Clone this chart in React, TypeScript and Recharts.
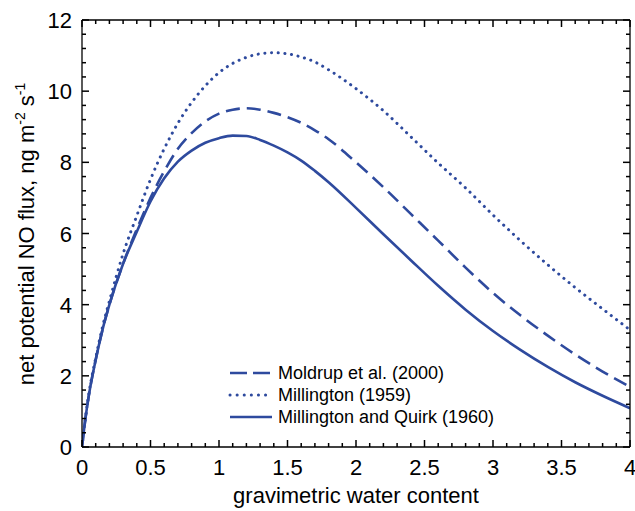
import React from 'react';
import { LineChart, Line, XAxis, YAxis, Legend } from 'recharts';

// gravimetric water content (x) and net potential NO flux for each model
const waterContent = [0, 0.025, 0.05, 0.1, 0.15, 0.2, 0.3, 0.4, 0.5, 0.6, 0.7, 0.8, 0.9, 1.0, 1.1, 1.2, 1.3, 1.4, 1.5, 1.6, 1.7, 1.8, 2.0, 2.2, 2.4, 2.6, 2.8, 3.0, 3.2, 3.4, 3.6, 3.8, 4.0];
const moldrup = [0, 0.8, 1.45, 2.45, 3.3, 4.0, 5.15, 6.12, 7.0, 7.75, 8.38, 8.82, 9.15, 9.37, 9.48, 9.52, 9.48, 9.39, 9.27, 9.11, 8.9, 8.65, 8.0, 7.3, 6.55, 5.8, 5.04, 4.33, 3.7, 3.13, 2.6, 2.12, 1.69];
const millington = [0, 0.82, 1.5, 2.5, 3.38, 4.1, 5.43, 6.5, 7.52, 8.38, 9.1, 9.68, 10.15, 10.52, 10.78, 10.95, 11.05, 11.08, 11.05, 10.96, 10.82, 10.6, 10.07, 9.45, 8.72, 7.98, 7.28, 6.52, 5.8, 5.12, 4.48, 3.88, 3.29];
const millingtonQuirk = [0, 0.8, 1.45, 2.45, 3.3, 4.0, 5.15, 6.05, 6.9, 7.55, 8.02, 8.33, 8.55, 8.68, 8.75, 8.74, 8.63, 8.47, 8.28, 8.05, 7.76, 7.44, 6.72, 5.98, 5.25, 4.53, 3.86, 3.26, 2.73, 2.25, 1.82, 1.44, 1.09];

const xMajorTicks = [0, 0.5, 1, 1.5, 2, 2.5, 3, 3.5, 4];
const yMajorTicks = [0, 2, 4, 6, 8, 10, 12];
const xMinorStep = 0.1;
const yMinorStep = 0.4;

const BLUE = '#2e4a9e';
const FONT = '"Liberation Sans", Arial, Helvetica, sans-serif';

// the 1959 curve is bound to the top / right axes so those get drawn too
const series = [
  { key: 'moldrup', name: 'Moldrup et al. (2000)', dash: '14 7', legendDash: '17 6', cap: 'butt' as const, width: 2.6, xId: 'bottom', yId: 'left' },
  { key: 'millington', name: 'Millington (1959)', dash: '0.1 6.6', legendDash: '0.1 7', cap: 'round' as const, width: 3, xId: 'top', yId: 'right' },
  { key: 'mq', name: 'Millington and Quirk (1960)', dash: undefined, legendDash: undefined, cap: 'butt' as const, width: 2.6, xId: 'bottom', yId: 'left' },
];

const data = waterContent.map((x, i) => ({
  x,
  moldrup: moldrup[i],
  millington: millington[i],
  mq: millingtonQuirk[i],
}));

const steps = (max: number, step: number) =>
  Array.from({ length: Math.round(max / step) + 1 }, (_, i) => Math.round(i * step * 100) / 100);

const xTicks = steps(4, xMinorStep);
const yTicks = steps(12, yMinorStep);

const isIn = (v: number, list: number[]) => list.some((m) => Math.abs(m - v) < 1e-6);

const tickStroke = { stroke: '#000', strokeWidth: 1.5 };
const MAJOR = 7;
const MINOR = 4;

const BottomTick = (props: any) => {
  const { x, y, payload } = props;
  const major = isIn(payload.value, xMajorTicks);
  return (
    <g>
      <line x1={x} x2={x} y1={y} y2={y - (major ? MAJOR : MINOR)} {...tickStroke} />
      {major && (
        <text x={x} y={y + 28} textAnchor="middle" fontSize={22} fontFamily={FONT} fill="#000">
          {String(payload.value)}
        </text>
      )}
    </g>
  );
};

const TopTick = (props: any) => {
  const { x, y, payload } = props;
  const major = isIn(payload.value, xMajorTicks);
  return <line x1={x} x2={x} y1={y} y2={y + (major ? MAJOR : MINOR)} {...tickStroke} />;
};

const LeftTick = (props: any) => {
  const { x, y, payload } = props;
  const major = isIn(payload.value, yMajorTicks);
  return (
    <g>
      <line x1={x} x2={x + (major ? MAJOR : MINOR)} y1={y} y2={y} {...tickStroke} />
      {major && (
        <text x={x - 10} y={y + 8} textAnchor="end" fontSize={22} fontFamily={FONT} fill="#000">
          {String(payload.value)}
        </text>
      )}
    </g>
  );
};

const RightTick = (props: any) => {
  const { x, y, payload } = props;
  const major = isIn(payload.value, yMajorTicks);
  return <line x1={x} x2={x - (major ? MAJOR : MINOR)} y1={y} y2={y} {...tickStroke} />;
};

const YTitle = () => (
  <text
    x={34}
    y={234}
    transform="rotate(-90, 34, 234)"
    textAnchor="middle"
    fontSize={22}
    fontFamily={FONT}
    fill="#000"
  >
    net potential NO flux, ng m<tspan dy={-9} fontSize={14}>-2</tspan>
    <tspan dy={9}> s</tspan>
    <tspan dy={-9} fontSize={14}>-1</tspan>
  </text>
);

const XTitle = () => (
  <text x={356} y={503} textAnchor="middle" fontSize={22} fontFamily={FONT} fill="#000">
    gravimetric water content
  </text>
);

const renderLegend = () => (
  <div style={{ fontFamily: FONT, fontSize: 18, color: '#000' }}>
    {series.map((s) => (
      <div key={s.key} style={{ display: 'flex', alignItems: 'center', height: 22 }}>
        <svg width={48} height={10} style={{ marginRight: 2 }}>
          <line
            x1={2}
            x2={44}
            y1={5}
            y2={5}
            stroke={BLUE}
            strokeWidth={s.width}
            strokeDasharray={s.legendDash}
            strokeLinecap={s.cap}
          />
        </svg>
        <span>{s.name}</span>
      </div>
    ))}
  </div>
);

const axisLine = { stroke: '#000', strokeWidth: 1.3 };

export default function App() {
  return (
    <div style={{ position: 'absolute', left: 0, top: 0, background: '#fff' }}>
      <LineChart width={635} height={511} data={data} margin={{ top: 19, right: 4, bottom: 0, left: 0 }}>
        <XAxis
          xAxisId="bottom"
          dataKey="x"
          type="number"
          domain={[0, 4]}
          allowDataOverflow
          ticks={xTicks}
          interval={0}
          tickLine={false}
          tickSize={0}
          tickMargin={0}
          tick={<BottomTick />}
          height={64}
          axisLine={axisLine}
          label={<XTitle />}
        />
        <XAxis
          xAxisId="top"
          orientation="top"
          dataKey="x"
          type="number"
          domain={[0, 4]}
          allowDataOverflow
          ticks={xTicks}
          interval={0}
          tickLine={false}
          tickSize={0}
          tickMargin={0}
          tick={<TopTick />}
          height={1}
          axisLine={axisLine}
        />
        <YAxis
          yAxisId="left"
          type="number"
          domain={[0, 12]}
          allowDataOverflow
          ticks={yTicks}
          interval={0}
          tickLine={false}
          tickSize={0}
          tickMargin={0}
          tick={<LeftTick />}
          width={82}
          axisLine={axisLine}
          label={<YTitle />}
        />
        <YAxis
          yAxisId="right"
          orientation="right"
          type="number"
          domain={[0, 12]}
          allowDataOverflow
          ticks={yTicks}
          interval={0}
          tickLine={false}
          tickSize={0}
          tickMargin={0}
          tick={<RightTick />}
          width={1}
          axisLine={axisLine}
        />
        <Legend
          layout="vertical"
          align="center"
          verticalAlign="middle"
          content={renderLegend}
          wrapperStyle={{ left: 228, top: 362, width: 'auto' }}
        />
        {series.map((s) => (
          <Line
            key={s.key}
            xAxisId={s.xId}
            yAxisId={s.yId}
            dataKey={s.key}
            name={s.name}
            type="monotone"
            stroke={BLUE}
            strokeWidth={s.width}
            strokeDasharray={s.dash}
            strokeLinecap={s.cap}
            dot={false}
            activeDot={false}
            isAnimationActive={false}
          />
        ))}
      </LineChart>
    </div>
  );
}
